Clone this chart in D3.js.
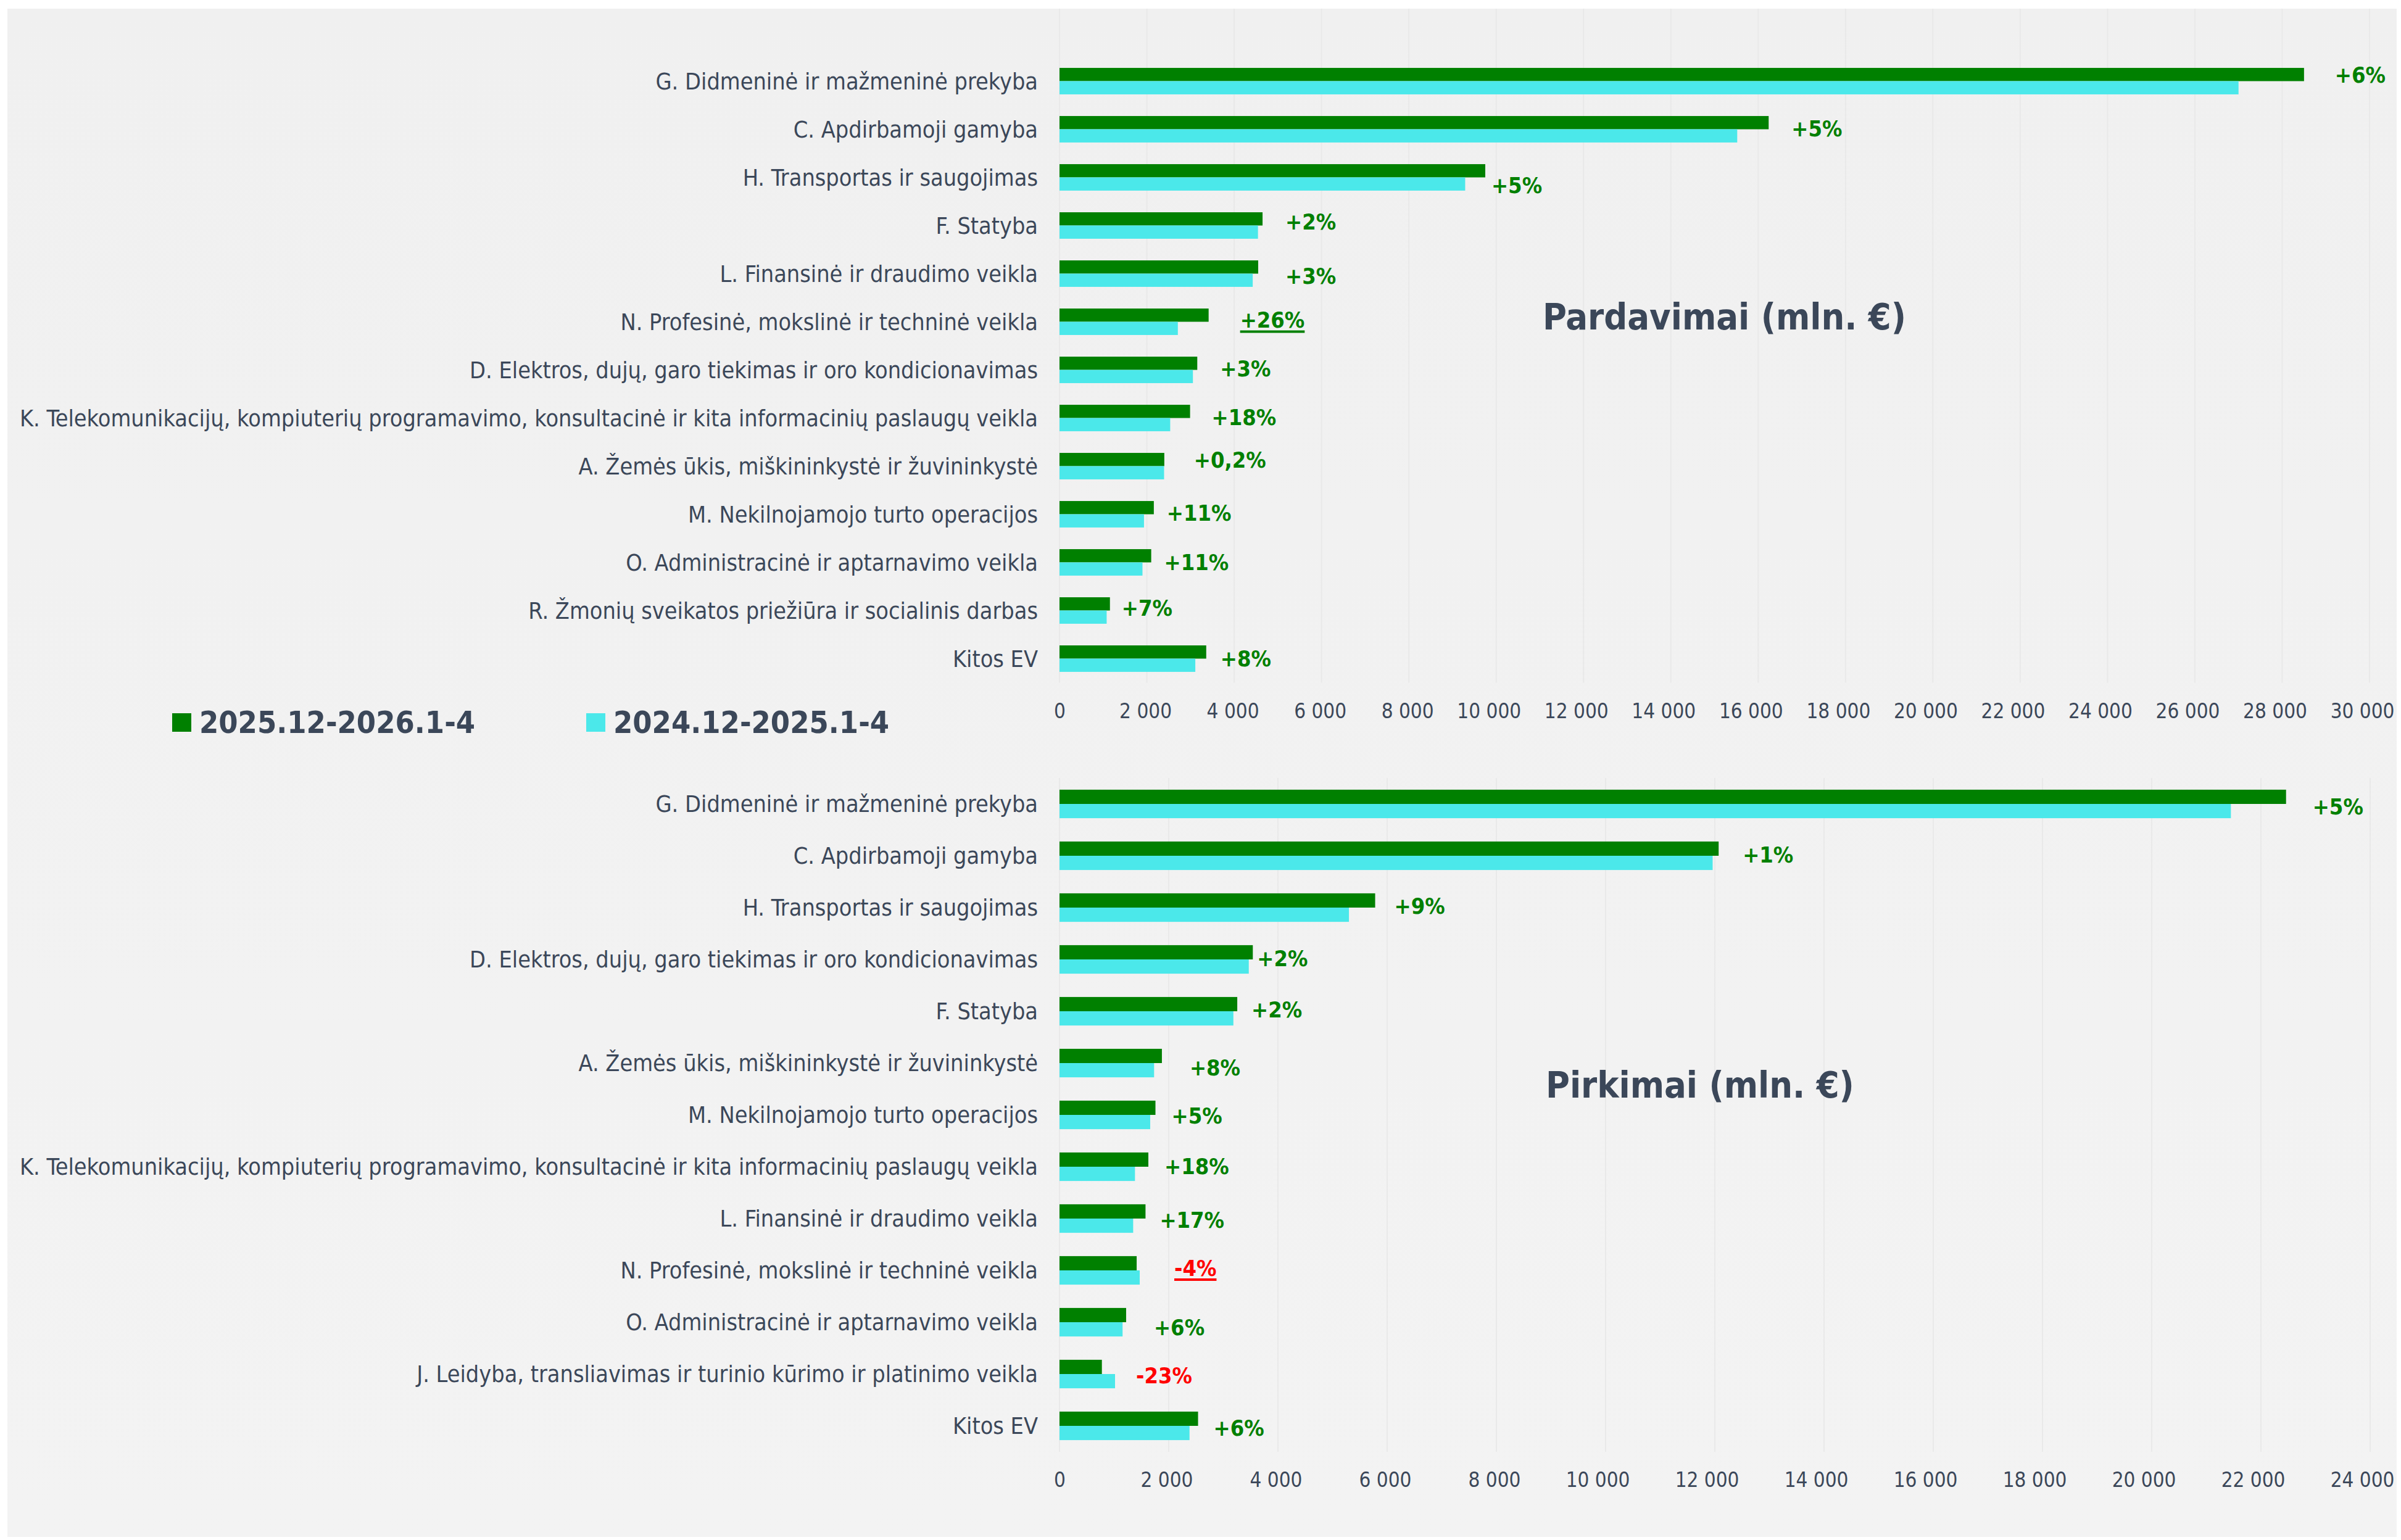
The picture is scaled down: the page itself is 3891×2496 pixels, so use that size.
<!DOCTYPE html>
<html>
<head>
<meta charset="utf-8">
<script src="https://cdn.jsdelivr.net/npm/d3@7"></script>
<style>
  html, body { margin: 0; padding: 0; background: #ffffff; }
  svg { display: block; font-family: "DejaVu Sans Condensed", "DejaVu Sans", sans-serif; }
</style>
</head>
<body>
<div id="chart"></div>
<script>
// Pardavimai (sales), mln. EUR
const salesCategories = [
    "G. Didmeninė ir mažmeninė prekyba",
    "C. Apdirbamoji gamyba",
    "H. Transportas ir saugojimas",
    "F. Statyba",
    "L. Finansinė ir draudimo veikla",
    "N. Profesinė, mokslinė ir techninė veikla",
    "D. Elektros, dujų, garo tiekimas ir oro kondicionavimas",
    "K. Telekomunikacijų, kompiuterių programavimo, konsultacinė ir kita informacinių paslaugų veikla",
    "A. Žemės ūkis, miškininkystė ir žuvininkystė",
    "M. Nekilnojamojo turto operacijos",
    "O. Administracinė ir aptarnavimo veikla",
    "R. Žmonių sveikatos priežiūra ir socialinis darbas",
    "Kitos EV"
];
const salesCurrent = [28500, 16240, 9750, 4650, 4550, 3415, 3155, 2990, 2400, 2160, 2100, 1155, 3360];
const salesPrevious = [27000, 15520, 9290, 4545, 4425, 2710, 3055, 2535, 2395, 1935, 1900, 1080, 3110];
const salesChange = ["+6%", "+5%", "+5%", "+2%", "+3%", "+26%", "+3%", "+18%", "+0,2%", "+11%", "+11%", "+7%", "+8%"];
const salesTicks = d3.range(0, 30001, 2000);

// Pirkimai (purchases), mln. EUR
const purchCategories = [
    "G. Didmeninė ir mažmeninė prekyba",
    "C. Apdirbamoji gamyba",
    "H. Transportas ir saugojimas",
    "D. Elektros, dujų, garo tiekimas ir oro kondicionavimas",
    "F. Statyba",
    "A. Žemės ūkis, miškininkystė ir žuvininkystė",
    "M. Nekilnojamojo turto operacijos",
    "K. Telekomunikacijų, kompiuterių programavimo, konsultacinė ir kita informacinių paslaugų veikla",
    "L. Finansinė ir draudimo veikla",
    "N. Profesinė, mokslinė ir techninė veikla",
    "O. Administracinė ir aptarnavimo veikla",
    "J. Leidyba, transliavimas ir turinio kūrimo ir platinimo veikla",
    "Kitos EV"
];
const purchCurrent = [22460, 12070, 5780, 3540, 3255, 1875, 1757, 1627, 1575, 1413, 1220, 776, 2537];
const purchPrevious = [21450, 11960, 5300, 3466, 3184, 1732, 1661, 1382, 1349, 1469, 1155, 1017, 2381];
const purchChange = ["+5%", "+1%", "+9%", "+2%", "+2%", "+8%", "+5%", "+18%", "+17%", "-4%", "+6%", "-23%", "+6%"];
const purchTicks = d3.range(0, 24001, 2000);

// underlined change labels
const salesUnderlined = ["N. Profesinė, mokslinė ir techninė veikla"];
const purchUnderlined = ["N. Profesinė, mokslinė ir techninė veikla"];

const seriesNames = ["2025.12-2026.1-4", "2024.12-2025.1-4"];

// hand placed label nudges [dx from bar end, dy from group centre]
const salesNudge = [[50, -10], [37, -1], [10, 13], [37, -6], [44, 4], [51, -3], [37, -2], [35, -1], [48, -10], [21, -2], [21, 0], [19, -4], [23, 0]];
const purchNudge = [[43, 4], [39, -2], [31, -3], [7, -2], [23, -3], [45, 7], [26, 1], [26, -1], [23, 2], [56, -4], [45, 8], [34, 2], [25, 3]];

const W = 3891, H = 2496;
const PANEL_RIGHT = 3884;
const GREEN = '#008000', CYAN = '#4be8ea', TEXT = '#3b4759', GRID = '#e9e9e9';

const svg = d3.select('#chart').append('svg')
    .attr('width', W)
    .attr('height', H);

const grad = svg.append('defs').append('linearGradient')
    .attr('id', 'bg').attr('x1', 0).attr('y1', 0).attr('x2', 0).attr('y2', 1);
grad.append('stop').attr('offset', '0%').attr('stop-color', '#f0f0f0');
grad.append('stop').attr('offset', '100%').attr('stop-color', '#f3f3f3');

svg.append('rect')
    .attr('x', 12).attr('y', 14)
    .attr('width', PANEL_RIGHT - 12).attr('height', 2477)
    .attr('fill', 'url(#bg)');

function drawPanel(opts) {
    const x = d3.scaleLinear().domain([0, opts.max]).range([1717, opts.xRight]);
    const y = d3.scaleBand().domain(opts.categories)
        .range([opts.top, opts.bottom])
        .paddingInner(0.45).paddingOuter(0.225);
    const g = svg.append('g');

    // gridlines
    g.selectAll('line.grid')
        .data(opts.ticks)
        .enter().append('line')
        .attr('x1', d => x(d)).attr('x2', d => x(d))
        .attr('y1', opts.gridTop).attr('y2', opts.bottom)
        .attr('stroke', GRID).attr('stroke-width', 2);

    const half = y.bandwidth() / 2;
    g.selectAll('rect.cur')
        .data(opts.categories)
        .enter().append('rect')
        .attr('x', x(0))
        .attr('y', d => y(d))
        .attr('width', (d, i) => x(opts.current[i]) - x(0))
        .attr('height', half)
        .attr('fill', GREEN);
    g.selectAll('rect.prev')
        .data(opts.categories)
        .enter().append('rect')
        .attr('x', x(0))
        .attr('y', d => y(d) + half)
        .attr('width', (d, i) => x(opts.previous[i]) - x(0))
        .attr('height', half)
        .attr('fill', CYAN);

    // category labels
    g.selectAll('text.cat')
        .data(opts.categories)
        .enter().append('text')
        .attr('x', 1682)
        .attr('y', d => y(d) + y.bandwidth() / 2)
        .attr('dy', '0.35em')
        .attr('text-anchor', 'end')
        .attr('font-size', 37.5)
        .attr('fill', TEXT)
        .text(d => d);

    // change labels
    g.selectAll('text.chg')
        .data(opts.categories)
        .enter().append('text')
        .attr('x', (d, i) => x(Math.max(opts.current[i], opts.previous[i])) + opts.nudge[i][0])
        .attr('y', (d, i) => y(d) + y.bandwidth() / 2 + opts.nudge[i][1])
        .attr('dy', '0.36em')
        .attr('font-size', 36)
        .attr('font-weight', 'bold')
        .attr('fill', (d, i) => opts.change[i].startsWith('-') ? '#ff0000' : GREEN)
        .text((d, i) => opts.change[i])
        .each(function (d, i) {
            if (!opts.underlined.includes(d)) return;
            const bb = this.getBBox();
            const ly = y(d) + y.bandwidth() / 2 + opts.nudge[i][1] + 19;
            g.append('line')
                .attr('x1', bb.x).attr('x2', bb.x + bb.width)
                .attr('y1', ly).attr('y2', ly)
                .attr('stroke', this.getAttribute('fill'))
                .attr('stroke-width', 4);
        });

    // axis
    const axis = d3.axisBottom(x)
        .tickValues(opts.ticks)
        .tickSize(0)
        .tickPadding(0)
        .tickFormat(d => d3.format(',')(d).replace(/,/g, ' '));
    const ag = svg.append('g')
        .attr('transform', `translate(0,${opts.axisY})`)
        .call(axis);
    ag.select('.domain').remove();
    ag.selectAll('text')
        .attr('y', 0)
        .attr('dy', '0.36em')
        .attr('font-size', 33)
        .attr('font-family', '"DejaVu Sans Condensed", "DejaVu Sans", sans-serif')
        .attr('fill', TEXT)
        .each(function () {
            // keep the last label inside the panel, like the original does
            const bb = this.getBBox();
            const tx = x(opts.max);
            const over = tx + bb.x + bb.width - (PANEL_RIGHT - 4);
            if (over > 0) d3.select(this).attr('x', -over);
        });

    // title
    svg.append('text')
        .attr('x', opts.titleX)
        .attr('y', opts.titleY)
        .attr('font-size', 59)
        .attr('font-weight', 'bold')
        .attr('fill', TEXT)
        .text(opts.title);
}

drawPanel({
    categories: salesCategories, current: salesCurrent, previous: salesPrevious,
    change: salesChange, nudge: salesNudge, underlined: salesUnderlined,
    ticks: salesTicks, max: 30000, xRight: 3840,
    top: 92.5, bottom: 1106.5, gridTop: 14, axisY: 1152,
    title: 'Pardavimai (mln. €)', titleX: 2500, titleY: 534
});

drawPanel({
    categories: purchCategories, current: purchCurrent, previous: purchPrevious,
    change: purchChange, nudge: purchNudge, underlined: purchUnderlined,
    ticks: purchTicks, max: 24000, xRight: 3841,
    top: 1261, bottom: 2353, gridTop: 1261, axisY: 2398,
    title: 'Pirkimai (mln. €)', titleX: 2505, titleY: 1779
});

// legend
const legend = svg.append('g');
const legendX = [279, 950];
seriesNames.forEach((name, i) => {
    legend.append('rect')
        .attr('x', legendX[i]).attr('y', 1156)
        .attr('width', 31).attr('height', 30)
        .attr('fill', i === 0 ? GREEN : CYAN);
    legend.append('text')
        .attr('x', legendX[i] + 44).attr('y', 1170)
        .attr('dy', '0.36em')
        .attr('font-size', 50)
        .attr('font-weight', 'bold')
        .attr('fill', TEXT)
        .text(name);
});
</script>
</body>
</html>
